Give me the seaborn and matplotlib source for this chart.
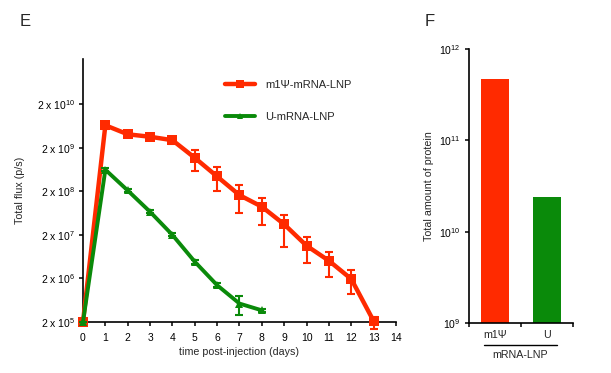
import numpy as np
import pandas as pd
import matplotlib
matplotlib.use("Agg")
import matplotlib.pyplot as plt
from matplotlib.lines import Line2D
import seaborn as sns

# ---------------- data ----------------
days_m1psi = [0, 1, 2, 3, 4, 5, 6, 7, 8, 9, 10, 11, 12, 13]
flux_m1psi = [2e5, 6.6e9, 4.1e9, 3.6e9, 3.0e9, 1.18e9, 4.4e8, 1.64e8, 8.9e7, 3.5e7, 1.13e7, 5.1e6, 1.94e6, 2.1e5]
flux_m1psi_hi = [2e5, 7.6e9, 4.5e9, 3.9e9, 3.6e9, 1.75e9, 7.1e8, 2.8e8, 1.4e8, 5.8e7, 1.8e7, 8.1e6, 3.1e6, 2.6e5]
flux_m1psi_lo = [2e5, 5.3e9, 3.7e9, 3.3e9, 2.4e9, 6.0e8, 2.0e8, 6.5e7, 3.4e7, 1.05e7, 4.5e6, 2.2e6, 8.6e5, 1.4e5]

days_u = [0, 1, 2, 3, 4, 5, 6, 7, 8]
flux_u = [2e5, 6.3e8, 2.1e8, 6.8e7, 2.0e7, 4.85e6, 1.4e6, 5.3e5, 3.7e5]
flux_u_hi = [2e5, 6.8e8, 2.3e8, 7.3e7, 2.2e7, 5.4e6, 1.6e6, 7.8e5, 4.0e5]
flux_u_lo = [2e5, 5.9e8, 1.95e8, 6.3e7, 1.85e7, 4.4e6, 1.25e6, 2.85e5, 3.4e5]

series_labels = ["m1Ψ-mRNA-LNP", "U-mRNA-LNP"]
flux_ticks = [2e5, 2e6, 2e7, 2e8, 2e9, 2e10]
flux_ticklabels = [r"2 x 10$^{5}$", r"2 x 10$^{6}$", r"2 x 10$^{7}$",
                   r"2 x 10$^{8}$", r"2 x 10$^{9}$", r"2 x 10$^{10}$"]
day_ticks = list(range(0, 15))

bar_categories = ["m1Ψ", "U"]
bar_values = [4.7e11, 2.4e10]
protein_ticks = [1e9, 1e10, 1e11, 1e12]
protein_ticklabels = [r"10$^{9}$", r"10$^{10}$", r"10$^{11}$", r"10$^{12}$"]

RED = "#FF2A00"
GREEN = "#0A8A0A"

# ---------------- style ----------------
sns.set_theme(style="ticks")
plt.rcParams["font.family"] = ["Liberation Sans", "DejaVu Sans"]
plt.rcParams["mathtext.fontset"] = "custom"
plt.rcParams["mathtext.rm"] = "Liberation Sans"
plt.rcParams["mathtext.it"] = "Liberation Sans:italic"
plt.rcParams["mathtext.bf"] = "Liberation Sans:bold"
plt.rcParams["axes.linewidth"] = 1.2
plt.rcParams["axes.edgecolor"] = "black"

W, H = 611, 373
fig = plt.figure(figsize=(W / 100, H / 100), dpi=100)
fig.patch.set_facecolor("white")

def fx(px):
    return px / W

def fy(py):
    return 1 - py / H

# ---------------- panel E ----------------
axE = fig.add_axes([fx(83), fy(322), fx(396) - fx(83), fy(59) - fy(322)])

df_m = pd.DataFrame({"day": days_m1psi, "flux": flux_m1psi})
df_u = pd.DataFrame({"day": days_u, "flux": flux_u})

axE.errorbar(days_m1psi, flux_m1psi,
             yerr=[np.array(flux_m1psi) - np.array(flux_m1psi_lo),
                   np.array(flux_m1psi_hi) - np.array(flux_m1psi)],
             fmt="none", ecolor=RED, elinewidth=1.5, capsize=3.2, capthick=1.5,
             clip_on=False, zorder=3)
sns.lineplot(data=df_m, x="day", y="flux", ax=axE, color=RED, linewidth=3.2,
             marker="s", markersize=7, markeredgewidth=0, markeredgecolor=RED,
             clip_on=False, zorder=4)
axE.errorbar(days_u, flux_u,
             yerr=[np.array(flux_u) - np.array(flux_u_lo),
                   np.array(flux_u_hi) - np.array(flux_u)],
             fmt="none", ecolor=GREEN, elinewidth=1.5, capsize=3.2, capthick=1.5,
             clip_on=False, zorder=5)
sns.lineplot(data=df_u, x="day", y="flux", ax=axE, color=GREEN, linewidth=2.8,
             marker="^", markersize=6, markeredgewidth=0, markeredgecolor=GREEN,
             clip_on=False, zorder=6)

axE.set_yscale("log")
axE.set_ylim(2e5, 2.2e11)
axE.set_xlim(0, 14)
axE.set_yticks(flux_ticks)
axE.set_yticklabels(flux_ticklabels)
axE.yaxis.set_minor_locator(matplotlib.ticker.NullLocator())
axE.set_xticks(day_ticks)
axE.set_xticklabels([str(d) for d in day_ticks])
axE.tick_params(axis="both", direction="out", length=3, width=1.1, labelsize=7.5,
                colors="black", pad=3)
axE.tick_params(axis="x", pad=5)
axE.set_xlabel("time post-injection (days)", fontsize=7.7, labelpad=3)
axE.set_ylabel("Total flux (p/s)", fontsize=7.7, labelpad=8)
sns.despine(ax=axE)

handles = [
    Line2D([], [], color=RED, linewidth=3.2, marker="s", markersize=6, markeredgewidth=0),
    Line2D([], [], color=GREEN, linewidth=2.8, marker="^", markersize=5, markeredgewidth=0),
]
fig.legend(handles, series_labels, loc="upper left",
           bbox_to_anchor=(fx(225), fy(80)), frameon=False, fontsize=8,
           handlelength=2.7, handletextpad=0.9, labelspacing=1.95, borderpad=0,
           borderaxespad=0)

fig.text(fx(20), fy(22), "E", fontsize=12, ha="left", va="center")

# ---------------- panel F ----------------
axF = fig.add_axes([fx(469), fy(323), fx(573) - fx(469), fy(49) - fy(323)])
df_bar = pd.DataFrame({"construct": bar_categories, "protein": bar_values})
sns.barplot(data=df_bar, x="construct", y="protein", hue="construct",
            palette=[RED, GREEN], width=0.54, ax=axF, legend=False,
            saturation=1, edgecolor="none")
axF.set_yscale("log")
axF.set_ylim(1e9, 1e12)
axF.set_xlim(-0.5, 1.5)
axF.set_yticks(protein_ticks)
axF.set_yticklabels(protein_ticklabels)
axF.yaxis.set_minor_locator(matplotlib.ticker.NullLocator())
axF.set_xticks([-0.5, 0.5, 1.5])
axF.set_xticklabels(["", "", ""])
axF.set_xticks([0, 1], minor=True)
axF.set_xticklabels(bar_categories, minor=True)
axF.tick_params(axis="both", which="major", direction="out", length=3, width=1.1,
                labelsize=7.5, colors="black")
axF.tick_params(axis="x", which="minor", length=0, labelsize=7.7, pad=5)
axF.set_xlabel("")
axF.set_ylabel("Total amount of protein", fontsize=7.7, labelpad=3)
sns.despine(ax=axF)

fig.add_artist(Line2D([fx(484), fx(557)], [fy(345), fy(345)], color="black", linewidth=1.0))
fig.text(fx(520.5), fy(355), "mRNA-LNP", fontsize=7.7, ha="center", va="center")
fig.text(fx(425), fy(22), "F", fontsize=12, ha="left", va="center")

fig.savefig("out.png", dpi=100, facecolor="white")
